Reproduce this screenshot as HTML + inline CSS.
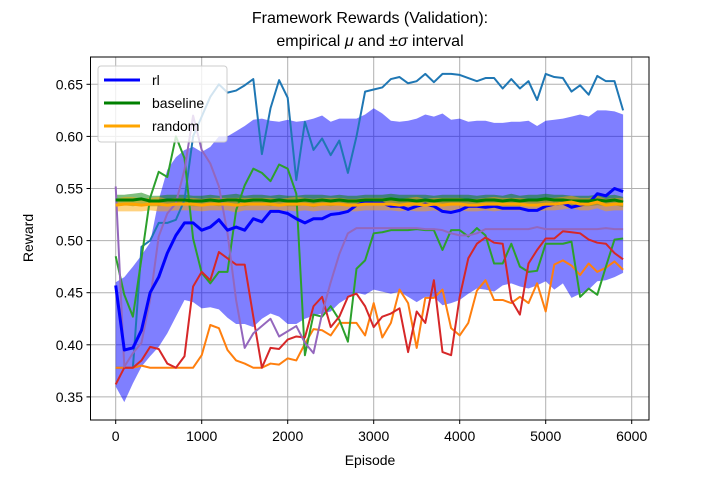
<!DOCTYPE html>
<html><head><meta charset="utf-8"><style>
body{margin:0;background:#fff;}
svg{display:block;font-family:"Liberation Sans","DejaVu Sans",sans-serif;}
</style></head><body>
<svg id="chart" width="720" height="480" viewBox="0 0 720 480">
<text x="370" y="23" font-size="16" text-anchor="middle">Framework Rewards (Validation):</text>
<text x="370" y="46" font-size="16" text-anchor="middle">empirical <tspan font-style="italic">μ</tspan> and ±<tspan font-style="italic">σ</tspan> interval</text>
<text x="370" y="465" font-size="14" text-anchor="middle">Episode</text>
<text x="0" y="0" font-size="14" text-anchor="middle" transform="translate(33,238) rotate(-90)">Reward</text>
<defs><clipPath id="pc"><rect x="90.5" y="57" width="558.5" height="363"/></clipPath></defs>
<g id="grid"></g>
<g id="marks" clip-path="url(#pc)"></g>
<rect x="90.5" y="57" width="558.5" height="363" fill="none" stroke="#000" stroke-width="1"/>
<g id="ticks"></g>
<g>
<rect x="98" y="66" width="129" height="76" rx="3" fill="#fff" fill-opacity="0.8" stroke="#ccc"/>
<line x1="104" y1="80" x2="140" y2="80" stroke="#0000ff" stroke-width="3"/>
<text x="152" y="85" font-size="14">rl</text>
<line x1="104" y1="103" x2="140" y2="103" stroke="#008000" stroke-width="3"/>
<text x="152" y="108" font-size="14">baseline</text>
<line x1="104" y1="126" x2="140" y2="126" stroke="#ffa500" stroke-width="3"/>
<text x="152" y="131" font-size="14">random</text>
</g>
</svg>
<script>
const episodes = Array.from({length:60},(_, i)=>i*100);
const xTicks = [0,1000,2000,3000,4000,5000,6000];
const yTicks = [0.35,0.40,0.45,0.50,0.55,0.60,0.65];
const yTickLabels = ["0.35","0.40","0.45","0.50","0.55","0.60","0.65"];
const rlMean = [.457,.395,.397,.414,.45,.465,.488,.505,.517,.517,.510,.513,.520,.510,.513,.510,.521,.518,.528,.528,.526,.521,.517,.521,.521,.525,.526,.528,.534,.537,.536,.536,.533,.533,.530,.533,.535,.533,.528,.527,.529,.533,.533,.532,.533,.531,.531,.531,.529,.529,.533,.535,.536,.532,.534,.536,.545,.543,.550,.547];
const rlUpper = [.46,.465,.475,.486,.498,.539,.568,.58,.587,.59,.585,.59,.60,.60,.605,.61,.616,.617,.615,.614,.616,.614,.615,.617,.62,.614,.617,.617,.617,.621,.627,.622,.615,.614,.615,.617,.621,.619,.622,.616,.617,.614,.615,.615,.613,.613,.614,.614,.615,.610,.615,.616,.617,.619,.621,.619,.625,.625,.624,.621];
const rlLower = [.36,.345,.363,.379,.389,.398,.411,.427,.443,.441,.435,.436,.434,.426,.42,.42,.417,.425,.43,.427,.42,.42,.425,.428,.43,.432,.44,.445,.45,.448,.453,.451,.449,.451,.446,.441,.446,.446,.438,.440,.443,.449,.454,.453,.451,.457,.459,.456,.454,.457,.461,.453,.459,.445,.449,.453,.461,.462,.465,.469];
const baseMean = [.539,.539,.539,.540,.538,.538,.539,.539,.539,.538,.538,.539,.538,.539,.539,.538,.539,.539,.538,.539,.538,.538,.539,.538,.539,.538,.539,.538,.538,.539,.539,.539,.540,.539,.539,.538,.539,.538,.539,.539,.539,.539,.538,.539,.539,.538,.539,.538,.539,.539,.540,.539,.539,.538,.538,.538,.539,.538,.539,.537];
const baseStd = [.005,.005,.006,.006,.005,.005,.005,.005,.005,.005,.005,.005,.005,.005,.006,.005,.005,.005,.005,.005,.005,.005,.005,.006,.005,.005,.005,.005,.005,.005,.005,.005,.005,.005,.005,.006,.005,.005,.005,.005,.005,.005,.005,.005,.005,.005,.006,.005,.005,.005,.005,.005,.005,.005,.005,.005,.005,.005,.005,.005];
const randMean = [.534,.535,.535,.534,.535,.535,.534,.535,.535,.535,.534,.535,.535,.535,.534,.535,.535,.535,.535,.534,.535,.535,.535,.534,.535,.535,.535,.534,.534,.535,.535,.535,.535,.534,.535,.535,.534,.535,.534,.535,.535,.534,.534,.535,.535,.535,.535,.535,.534,.534,.535,.535,.536,.537,.535,.535,.537,.534,.535,.535];
const randStd = [.006,.007,.007,.006,.006,.007,.006,.006,.006,.006,.006,.006,.006,.006,.007,.006,.006,.006,.006,.006,.006,.007,.006,.006,.006,.006,.006,.006,.006,.006,.006,.006,.006,.006,.006,.007,.006,.006,.007,.006,.006,.006,.006,.006,.007,.006,.006,.006,.006,.006,.006,.006,.006,.006,.006,.006,.006,.006,.006,.006];
const run0 = [.378,.378,.378,.494,.500,.517,.517,.520,.539,.600,.619,.638,.650,.642,.644,.649,.655,.583,.627,.654,.637,.558,.614,.587,.598,.582,.596,.565,.600,.643,.645,.647,.655,.657,.651,.653,.660,.652,.660,.660,.659,.656,.653,.656,.656,.646,.655,.646,.653,.635,.660,.657,.656,.643,.649,.640,.658,.653,.653,.625];
const run1 = [.378,.378,.378,.380,.378,.378,.378,.378,.378,.378,.390,.419,.416,.395,.385,.382,.378,.378,.382,.381,.387,.385,.401,.415,.414,.409,.421,.421,.421,.409,.440,.407,.421,.453,.440,.397,.445,.445,.453,.416,.409,.421,.452,.462,.443,.443,.440,.446,.440,.459,.432,.477,.481,.476,.467,.478,.470,.474,.480,.472];
const run2 = [.485,.448,.427,.483,.541,.566,.561,.600,.579,.502,.469,.459,.470,.470,.529,.553,.569,.565,.557,.573,.569,.545,.390,.429,.427,.437,.424,.403,.473,.481,.507,.508,.510,.510,.510,.511,.510,.510,.491,.510,.510,.504,.512,.505,.478,.478,.497,.475,.470,.471,.497,.497,.497,.499,.446,.454,.448,.475,.501,.502];
const run3 = [.362,.378,.378,.385,.398,.396,.382,.378,.389,.456,.470,.462,.489,.483,.477,.477,.427,.378,.397,.396,.405,.408,.407,.437,.446,.417,.427,.446,.449,.437,.417,.427,.430,.435,.393,.432,.421,.462,.393,.390,.446,.483,.497,.503,.498,.497,.443,.429,.478,.491,.502,.502,.509,.508,.507,.501,.498,.497,.488,.482];
const run4 = [.552,.379,.392,.402,.443,.504,.526,.536,.568,.620,.587,.574,.552,.507,.443,.397,.411,.418,.425,.408,.413,.418,.402,.392,.430,.460,.487,.507,.512,.512,.512,.512,.512,.512,.512,.512,.511,.511,.510,.507,.505,.505,.507,.511,.511,.511,.511,.511,.511,.513,.511,.511,.511,.511,.511,.511,.511,.512,.511,.511];

const NS="http://www.w3.org/2000/svg";
const X = v => 115.7 + v*0.086;
const Y = v => 84.3 + (0.65 - v)*1042;
const grid=document.getElementById('grid'), marks=document.getElementById('marks'), ticks=document.getElementById('ticks');
function mk(tag, attrs, parent){const e=document.createElementNS(NS,tag);for(const k in attrs)e.setAttribute(k,attrs[k]);parent.appendChild(e);return e;}

xTicks.forEach(t=>{
  const g=mk('line',{x1:X(t),x2:X(t),y1:57,y2:420,stroke:'#b0b0b0','stroke-width':1},grid);
  
  
  const tk=mk('line',{x1:X(t),x2:X(t),y1:420,y2:424,stroke:'#000'},ticks);
  
  
  const tx=mk('text',{x:X(t),y:441,'font-size':14,'text-anchor':'middle'},ticks);
  tx.textContent=String(t);
  
  
});
yTicks.forEach((t,i)=>{
  const g=mk('line',{x1:90.5,x2:649,y1:Y(t),y2:Y(t),stroke:'#b0b0b0','stroke-width':1},grid);
  
  
  const tk=mk('line',{x1:86.5,x2:90.5,y1:Y(t),y2:Y(t),stroke:'#000'},ticks);
  
  
  const tx=mk('text',{x:83,y:Y(t)+5,'font-size':14,'text-anchor':'end'},ticks);
  tx.textContent=yTickLabels[i];
  
  
});

function band(up, lo, color, name){
  let d='M'+episodes.map((e,i)=>X(e)+','+Y(up[i])).join('L');
  for(let i=episodes.length-1;i>=0;i--) d+='L'+X(episodes[i])+','+Y(lo[i]);
  const p=mk('path',{d:d+'Z',fill:color,'fill-opacity':0.5,stroke:'none'},marks);
  
  
}
function line(vals, color, w, name){
  const d='M'+episodes.map((e,i)=>X(e)+','+Y(vals[i])).join('L');
  const p=mk('path',{d:d,fill:'none',stroke:color,'stroke-width':w,'stroke-linejoin':'round'},marks);
  
  
}
band(rlUpper, rlLower, '#0000ff', 'rl-sigma-band');
band(baseMean.map((m,i)=>m+baseStd[i]), baseMean.map((m,i)=>m-baseStd[i]), '#008000', 'baseline-sigma-band');
band(randMean.map((m,i)=>m+randStd[i]), randMean.map((m,i)=>m-randStd[i]), '#ffa500', 'random-sigma-band');
line(run0,'#1f77b4',2,'rl-run-0-line');
line(run1,'#ff7f0e',2,'rl-run-1-line');
line(run2,'#2ca02c',2,'rl-run-2-line');
line(run3,'#d62728',2,'rl-run-3-line');
line(run4,'#9467bd',2,'rl-run-4-line');
line(rlMean,'#0000ff',3,'rl-mean-line');
line(baseMean,'#008000',3,'baseline-mean-line');
line(randMean,'#ffa500',3,'random-mean-line');
</script>
</body></html>
